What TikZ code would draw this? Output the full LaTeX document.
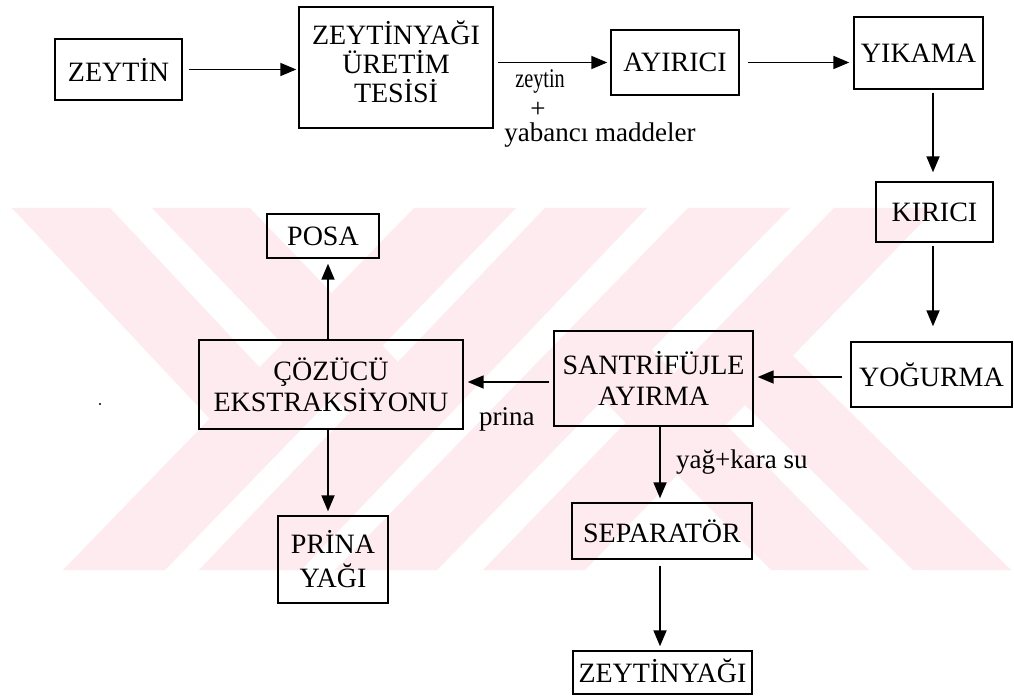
\documentclass[tikz,border=0pt]{standalone}
\usepackage{fontspec}
\usepackage{graphicx}
\setmainfont{Liberation Serif}
\usetikzlibrary{arrows.meta}
\definecolor{wm}{RGB}{253,235,239}
\begin{document}
\begin{tikzpicture}[x=1pt,y=-1pt,
  box/.style={draw, line width=1.4pt, align=center, inner sep=0pt,
    font=\fontsize{28}{31}\selectfont},
  lbl/.style={font=\fontsize{27}{31}\selectfont, inner sep=0pt},
  arr/.style={line width=1.8pt, -{Triangle[length=16pt,width=13pt]}}]
\useasboundingbox (0,0) rectangle (1014,700);
% watermark
\begin{scope}
\clip (0,208) rectangle (1014,570);
\foreach \t/\b in {414/63,545/199,688/335,834/483}
  \fill[wm] (\t,208) -- (\t+102,208) -- (\b+102,570) -- (\b,570) -- cycle;
\fill[wm] (12,208) -- (110,208) -- (308,419) -- (210,419) -- cycle;
\fill[wm] (152,208) -- (250,208) -- (447,413) -- (349,413) -- cycle;
\fill[wm] (552,348) -- (650,348) -- (869,570) -- (771,570) -- cycle;
\fill[wm] (692,353) -- (790,353) -- (1011,570) -- (913,570) -- cycle;
\end{scope}
% boxes
\node[box, minimum width=127pt, minimum height=61pt] (zeytin) at (118.5,69.5) {ZEYTİN};
\node[box, minimum width=194pt, minimum height=121pt, font=\fontsize{28}{29}\selectfont] (tesis) at (396,67.5) {ZEYTİNYAĞI\\ÜRETİM\\TESİSİ\rule[-11pt]{0pt}{1pt}};
\node[box, minimum width=128pt, minimum height=65pt] (ayirici) at (675,62.5) {AYIRICI};
\node[box, minimum width=129pt, minimum height=72pt] (yikama) at (918.5,53) {YIKAMA};
\node[box, minimum width=117pt, minimum height=60pt] (kirici) at (934.5,212) {KIRICI};
\node[box, minimum width=161pt, minimum height=65pt] (yogurma) at (931.5,374.5) {YOĞURMA};
\node[box, minimum width=199pt, minimum height=95pt] (santri) at (653.5,378.5) {SANTRİFÜJLE\\AYIRMA};
\node[box, minimum width=264pt, minimum height=89pt] (cozucu) at (331,384.5) {ÇÖZÜCÜ\\EKSTRAKSİYONU};
\node[box, minimum width=112pt, minimum height=44pt] (posa) at (323,236) {POSA};
\node[box, minimum width=110pt, minimum height=87pt, font=\fontsize{28}{34}\selectfont] (prinayagi) at (333,559.5) {PRİNA\\YAĞI};
\node[box, minimum width=180pt, minimum height=56pt] (separator) at (662,531) {SEPARATÖR};
\node[box, minimum width=179pt, minimum height=43pt] (zeytinyagi) at (662.5,672.5) {ZEYTİNYAĞI\rule[-3pt]{0pt}{1pt}};
% labels
\node[lbl, anchor=base] (l1) at (540,88) {\scalebox{0.75}[1]{zeytin}};
\node[lbl] (l2) at (538,110) {+};
\node[lbl, anchor=base] (l3) at (600,142) {yabancı maddeler};
\node[lbl, anchor=base west] (l4) at (676,468) {yağ+kara su};
\node[lbl, anchor=base west] (l5) at (479,425) {prina};
\fill (100,404) circle (1.2pt);
% arrows
\draw[arr, shorten <=6pt, shorten >=2pt] (zeytin.east) -- (zeytin.east -| tesis.west);
\draw[arr, shorten <=4pt, shorten >=3pt] (tesis.east |- ayirici.west) -- (ayirici.west);
\draw[arr, shorten <=8pt, shorten >=4pt] (ayirici.east) -- (ayirici.east -| yikama.west);
\draw[arr, shorten <=3pt, shorten >=9pt] ([xshift=-1.5pt]kirici.north |- yikama.south) -- ([xshift=-1.5pt]kirici.north);
\draw[arr, shorten <=3pt, shorten >=15pt] ([xshift=-1.5pt]kirici.south) -- ([xshift=-1.5pt]kirici.south |- yogurma.north);
\draw[arr, shorten <=8pt, shorten >=4pt] ([yshift=-2.5pt]yogurma.west) -- ([yshift=-2.5pt]yogurma.west -| santri.east);
\draw[arr, shorten <=4pt, shorten >=4pt] ([yshift=-3.5pt]santri.west) -- ([yshift=-3.5pt]santri.west -| cozucu.east);
\draw[arr, shorten >=5pt] ([xshift=-3pt]cozucu.north) -- ([xshift=-3pt]cozucu.north |- posa.south);
\draw[arr, shorten >=4pt] ([xshift=-3pt]cozucu.south) -- ([xshift=-3pt]cozucu.south |- prinayagi.north);
\draw[arr, shorten >=4pt] ([xshift=-2pt]separator.north |- santri.south) -- ([xshift=-2pt]separator.north);
\draw[arr, shorten <=6pt, shorten >=4pt] ([xshift=-2pt]separator.south) -- ([xshift=-2pt]separator.south |- zeytinyagi.north);
\end{tikzpicture}
\end{document}
